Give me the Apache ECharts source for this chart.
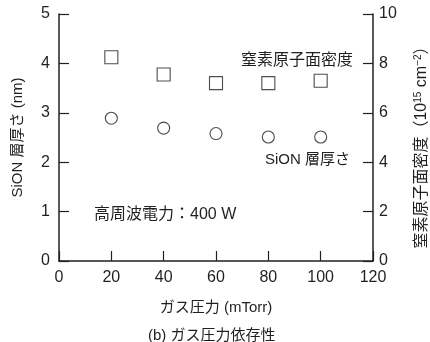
<!DOCTYPE html>
<html><head><meta charset="utf-8">
<script src="https://cdn.jsdelivr.net/npm/echarts@6/dist/echarts.min.js"></script>
<style>html,body{margin:0;padding:0;background:#fff}#c{width:430px;height:342px}</style>
</head><body><div id="c"></div>
<script>
const pressure = [20, 40, 60, 80, 100];
const sionThickness = [2.89, 2.69, 2.58, 2.51, 2.51];
const nitrogenDensity = [8.25, 7.55, 7.2, 7.2, 7.3];
const xTicks = [0, 20, 40, 60, 80, 100, 120];
const leftTicks = [0, 1, 2, 3, 4, 5];
const rightTicks = [0, 2, 4, 6, 8, 10];

const FF = '"Liberation Sans","Noto Sans CJK JP",sans-serif';
const TC = '#231f20';
const chart = echarts.init(document.getElementById('c'));
const axisLine = {show: true, lineStyle: {color: TC, width: 1.5}};
chart.setOption({
  animation: false,
  backgroundColor: '#fff',
  grid: {left: 59, right: 57, top: 14, bottom: 81, containLabel: false, outerBoundsMode: 'none'},
  xAxis: {
    type: 'value', min: xTicks[0], max: xTicks[xTicks.length - 1], interval: 20,
    axisLine: axisLine,
    axisTick: {show: true, inside: true, length: 10, lineStyle: {color: TC, width: 1.2}},
    splitLine: {show: false},
    axisLabel: {color: TC, fontSize: 16, fontFamily: FF, margin: 9},
    name: 'ガス圧力 (mTorr)', nameLocation: 'middle', nameGap: 39,
    nameTextStyle: {color: TC, fontSize: 15, fontFamily: FF}
  },
  yAxis: [{
    type: 'value', min: leftTicks[0], max: leftTicks[leftTicks.length - 1], interval: 1,
    axisLine: axisLine,
    axisTick: {show: true, inside: true, length: 10, lineStyle: {color: TC, width: 1.2}},
    splitLine: {show: false},
    axisLabel: {color: TC, fontSize: 16, fontFamily: FF, margin: 9},
    name: 'SiON 層厚さ (nm)', nameLocation: 'middle', nameGap: 34, nameRotate: 90,
    nameTextStyle: {color: TC, fontSize: 15, fontFamily: FF}
  }, {
    type: 'value', position: 'right', min: rightTicks[0], max: rightTicks[rightTicks.length - 1], interval: 2,
    axisLine: axisLine,
    axisTick: {show: true, inside: true, length: 10, lineStyle: {color: TC, width: 1.2}},
    splitLine: {show: false},
    axisLabel: {color: TC, fontSize: 16, fontFamily: FF, margin: 6},
    name: '{a|窒素原子面密度（10}{s|15}{a| cm}{s|−2}{a|）}', nameLocation: 'middle', nameGap: 40, nameRotate: 90,
    nameTextStyle: {color: TC, fontSize: 16, fontFamily: FF, padding: [0, 12, 0, 0],
      rich: {a: {color: TC, fontSize: 16, fontFamily: FF}, s: {color: TC, fontSize: 10, fontFamily: FF, verticalAlign: 'top', padding: [0,0,7,0]}}}
  }],
  series: [{
    type: 'scatter', yAxisIndex: 0, data: pressure.map((x, i) => [x, sionThickness[i]]),
    symbol: 'circle', symbolSize: 12,
    itemStyle: {color: '#fff', borderColor: TC, borderWidth: 1.1}
  }, {
    type: 'scatter', yAxisIndex: 1, data: pressure.map((x, i) => [x, nitrogenDensity[i]]),
    symbol: 'rect', symbolSize: 13,
    itemStyle: {color: '#fff', borderColor: TC, borderWidth: 1.1}
  }],
  graphic: [
    {type: 'text', left: 241, top: 53, style: {text: '窒素原子面密度', fill: TC, font: '16px ' + FF}},
    {type: 'text', left: 265, top: 152, style: {text: 'SiON 層厚さ', fill: TC, font: '15px ' + FF}},
    {type: 'text', left: 94, top: 207, style: {text: '高周波電力：400 W', fill: TC, font: '16px ' + FF}},
    {type: 'text', left: 148, top: 328, style: {text: '(b) ガス圧力依存性', fill: TC, font: '15px ' + FF}}
  ]
});
</script></body></html>
